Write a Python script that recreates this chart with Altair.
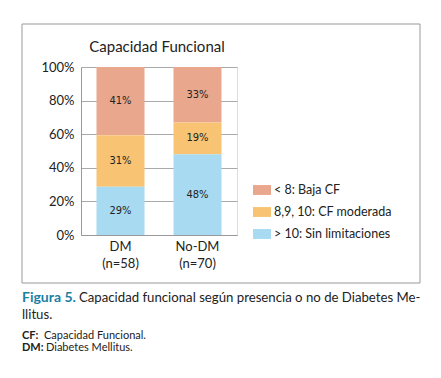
import altair as alt
import pandas as pd

groups = ["DM (n=58)", "No-DM (n=70)"]
categories = ["< 8: Baja CF", "8,9, 10: CF moderada", "> 10: Sin limitaciones"]
dm_values = [41, 31, 29]
nodm_values = [33, 19, 48]
colors = ["#E9A88D", "#F8C474", "#A8DBF2"]
y_ticks = [0, 0.2, 0.4, 0.6, 0.8, 1.0]

rows = []
for g, vals in zip(groups, [dm_values, nodm_values]):
    for i, (c, v) in enumerate(zip(categories, vals)):
        rows.append({"grupo": g, "cat": c, "val": v, "ord": 2 - i, "lab": f"{v}%"})
df = pd.DataFrame(rows)

FONT = "Lato"
NARROW = "DejaVu Sans Condensed, Liberation Sans Narrow, Roboto, sans-serif"
W, H = 156, 168

x_axis = alt.Axis(labelExpr="split(datum.value, ' ')", labelAngle=0,
                  labelFontSize=13, labelColor="#222", labelFont=FONT,
                  ticks=False, domainColor="#999", labelPadding=5,
                  labelLineHeight=17, zindex=1)
y_axis = alt.Axis(format=".0%", values=y_ticks,
                  labelFontSize=13, labelColor="#222", labelFont=FONT,
                  labelOverlap=False, labelFlush=False,
                  ticks=False, domainColor="#999", gridColor="#aaa",
                  labelPadding=7)
x_enc = alt.X("grupo:N", sort=groups, title=None,
              scale=alt.Scale(paddingInner=0.6, paddingOuter=0.313), axis=x_axis)

base = alt.Chart(df)

bars = base.mark_bar(size=48).encode(
    x=x_enc,
    y=alt.Y("val:Q", stack="normalize", title=None, axis=y_axis),
    color=alt.Color("cat:N", sort=categories,
                    scale=alt.Scale(domain=categories, range=colors),
                    legend=alt.Legend(title=None, orient="none", legendX=172, legendY=114,
                                      symbolType="M-1,-0.55H1V0.55H-1Z", symbolSize=324,
                                      symbolStrokeWidth=0, symbolOpacity=1,
                                      labelFontSize=12.5, labelFont=FONT, labelColor="#222",
                                      rowPadding=6, labelOffset=3)),
    order=alt.Order("ord:Q"),
)

labels = base.mark_text(fontSize=11, font=NARROW, color="#222").encode(
    x=x_enc,
    y=alt.Y("val:Q", stack="normalize", bandPosition=0.5, title=None, axis=y_axis),
    detail="cat:N",
    text="lab:N",
    order=alt.Order("ord:Q"),
)

frame = alt.Chart(pd.DataFrame({"a": [0]})).mark_rect(
    fillOpacity=0, stroke="#999", strokeWidth=1
).encode(x=alt.value(-59), x2=alt.value(339), y=alt.value(-43), y2=alt.value(216))


def txt(t, x, y, size, weight="normal", color="#222", align="left"):
    return alt.Chart(pd.DataFrame({"t": [t]})).mark_text(
        align=align, baseline="alphabetic", fontSize=size, font=FONT,
        fontWeight=weight, color=color
    ).encode(x=alt.value(x), y=alt.value(y), text="t:N")


title = txt("Capacidad Funcional", 76, -15, 15, align="center")
cap1 = txt("Figura 5.", -59, 235, 14, "bold", "#1B7FA3")
cap2 = txt("Capacidad funcional según presencia o no de Diabetes Me-", -2, 235, 13.2)
cap3 = txt("llitus.", -59, 252, 13.2)
n1b = txt("CF:", -59, 272, 11, "bold")
n1 = txt("Capacidad Funcional.", -37, 272, 11)
n2b = txt("DM:", -59, 284, 11, "bold")
n2 = txt("Diabetes Mellitus.", -35, 284, 11)

chart = alt.layer(frame, bars, labels, title, cap1, cap2, cap3, n1b, n1, n2b, n2).properties(
    width=W, height=H,
    autosize=alt.AutoSizeParams(type="none"),
    padding={"left": 73, "top": 59, "right": 195, "bottom": 135},
).configure_view(stroke=None).configure_axis(labelOverlap=False).configure(background="white")

chart.save("out.html", embed_options={"renderer": "svg", "actions": False})
